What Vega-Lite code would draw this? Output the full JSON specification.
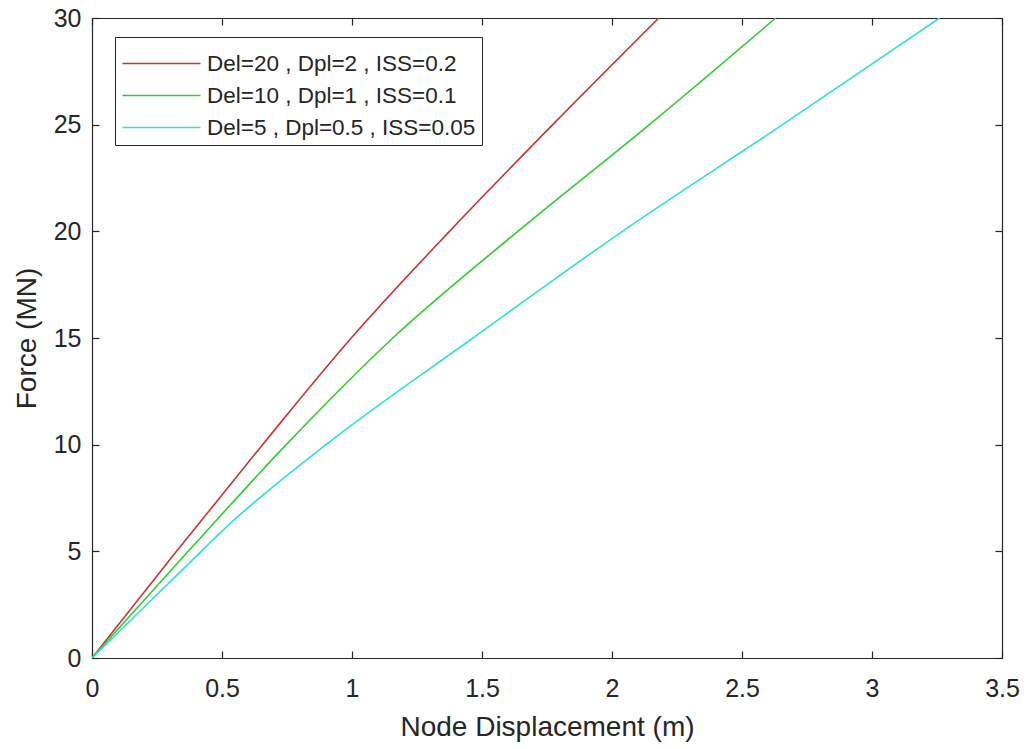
{
  "$schema": "https://vega.github.io/schema/vega-lite/v6.json",
  "width": 910,
  "height": 640,
  "autosize": "none",
  "padding": {"left": 92, "top": 18, "right": 27, "bottom": 91},
  "background": "white",
  "config": {
    "font": "Liberation Sans",
    "view": {"stroke": null},
    "axis": {
      "grid": false,
      "domainColor": "#262626",
      "tickColor": "#262626",
      "labelColor": "#262626",
      "titleColor": "#262626",
      "labelFont": "Liberation Sans",
      "titleFont": "Liberation Sans",
      "labelFontSize": 25,
      "titleFontSize": 28,
      "titleFontWeight": "normal",
      "labelFlush": false,
      "tickSize": -7,
      "domainWidth": 1.2,
      "tickWidth": 1.2
    }
  },
  "data": {
    "values": [
      {"s": "Del=20 , Dpl=2 , ISS=0.2", "d": 0, "f": 0},
      {"s": "Del=20 , Dpl=2 , ISS=0.2", "d": 0.325, "f": 5},
      {"s": "Del=20 , Dpl=2 , ISS=0.2", "d": 0.656, "f": 10},
      {"s": "Del=20 , Dpl=2 , ISS=0.2", "d": 0.997, "f": 15},
      {"s": "Del=20 , Dpl=2 , ISS=0.2", "d": 1.375, "f": 20},
      {"s": "Del=20 , Dpl=2 , ISS=0.2", "d": 1.772, "f": 25},
      {"s": "Del=20 , Dpl=2 , ISS=0.2", "d": 2.18, "f": 30},
      {"s": "Del=10 , Dpl=1 , ISS=0.1", "d": 0, "f": 0},
      {"s": "Del=10 , Dpl=1 , ISS=0.1", "d": 0.37, "f": 5},
      {"s": "Del=10 , Dpl=1 , ISS=0.1", "d": 0.747, "f": 10},
      {"s": "Del=10 , Dpl=1 , ISS=0.1", "d": 1.157, "f": 15},
      {"s": "Del=10 , Dpl=1 , ISS=0.1", "d": 1.638, "f": 20},
      {"s": "Del=10 , Dpl=1 , ISS=0.1", "d": 2.144, "f": 25},
      {"s": "Del=10 , Dpl=1 , ISS=0.1", "d": 2.63, "f": 30},
      {"s": "Del=5 , Dpl=0.5 , ISS=0.05", "d": 0, "f": 0},
      {"s": "Del=5 , Dpl=0.5 , ISS=0.05", "d": 0.42, "f": 5},
      {"s": "Del=5 , Dpl=0.5 , ISS=0.05", "d": 0.5, "f": 5.95},
      {"s": "Del=5 , Dpl=0.5 , ISS=0.05", "d": 0.9, "f": 10},
      {"s": "Del=5 , Dpl=0.5 , ISS=0.05", "d": 1.465, "f": 15},
      {"s": "Del=5 , Dpl=0.5 , ISS=0.05", "d": 2.04, "f": 20},
      {"s": "Del=5 , Dpl=0.5 , ISS=0.05", "d": 2.656, "f": 25},
      {"s": "Del=5 , Dpl=0.5 , ISS=0.05", "d": 3.26, "f": 30}
    ]
  },
  "layer": [
    {
      "mark": {"type": "line", "strokeWidth": 1.6, "clip": true, "interpolate": "monotone"},
      "encoding": {
        "x": {
          "field": "d", "type": "quantitative",
          "scale": {"domain": [0, 3.5], "nice": false, "zero": false},
          "axis": {"orient": "bottom", "values": [0, 0.5, 1, 1.5, 2, 2.5, 3, 3.5], "format": "~g", "title": "Node Displacement (m)", "labelPadding": 25, "titlePadding": 12}
        },
        "y": {
          "field": "f", "type": "quantitative",
          "scale": {"domain": [0, 30], "nice": false, "zero": false},
          "axis": {"orient": "left", "values": [0, 5, 10, 15, 20, 25, 30], "format": "~g", "title": "Force (MN)", "labelPadding": 18, "titlePadding": 12}
        },
        "color": {
          "field": "s", "type": "nominal",
          "scale": {
            "domain": ["Del=20 , Dpl=2 , ISS=0.2", "Del=10 , Dpl=1 , ISS=0.1", "Del=5 , Dpl=0.5 , ISS=0.05"],
            "range": ["#cc3333", "#33cc33", "#33dddd"]
          },
          "legend": {
            "title": null,
            "orient": "none",
            "legendX": 23,
            "legendY": 19,
            "direction": "vertical",
            "symbolType": "M-2,0H2",
            "symbolSize": 1521,
            "symbolOffset": 20,
            "symbolStrokeWidth": 1.6,
            "labelFontSize": 22.5,
            "labelLimit": 0,
            "labelColor": "#262626",
            "labelFont": "Liberation Sans",
            "labelOffset": 25,
            "rowPadding": 0,
            "strokeColor": "#262626",
            "fillColor": "white",
            "padding": 6,
            "cornerRadius": 0
          }
        }
      }
    },
    {
      "mark": {"type": "line", "opacity": 0},
      "encoding": {
        "x": {
          "field": "d", "type": "quantitative",
          "scale": {"domain": [0, 3.5], "nice": false, "zero": false},
          "axis": {"orient": "top", "values": [0, 0.5, 1, 1.5, 2, 2.5, 3, 3.5], "labels": false, "title": null}
        },
        "y": {
          "field": "f", "type": "quantitative",
          "scale": {"domain": [0, 30], "nice": false, "zero": false},
          "axis": {"orient": "right", "values": [0, 5, 10, 15, 20, 25, 30], "labels": false, "title": null}
        },
        "detail": {"field": "s", "type": "nominal"}
      }
    }
  ],
  "resolve": {"axis": {"x": "independent", "y": "independent"}}
}
